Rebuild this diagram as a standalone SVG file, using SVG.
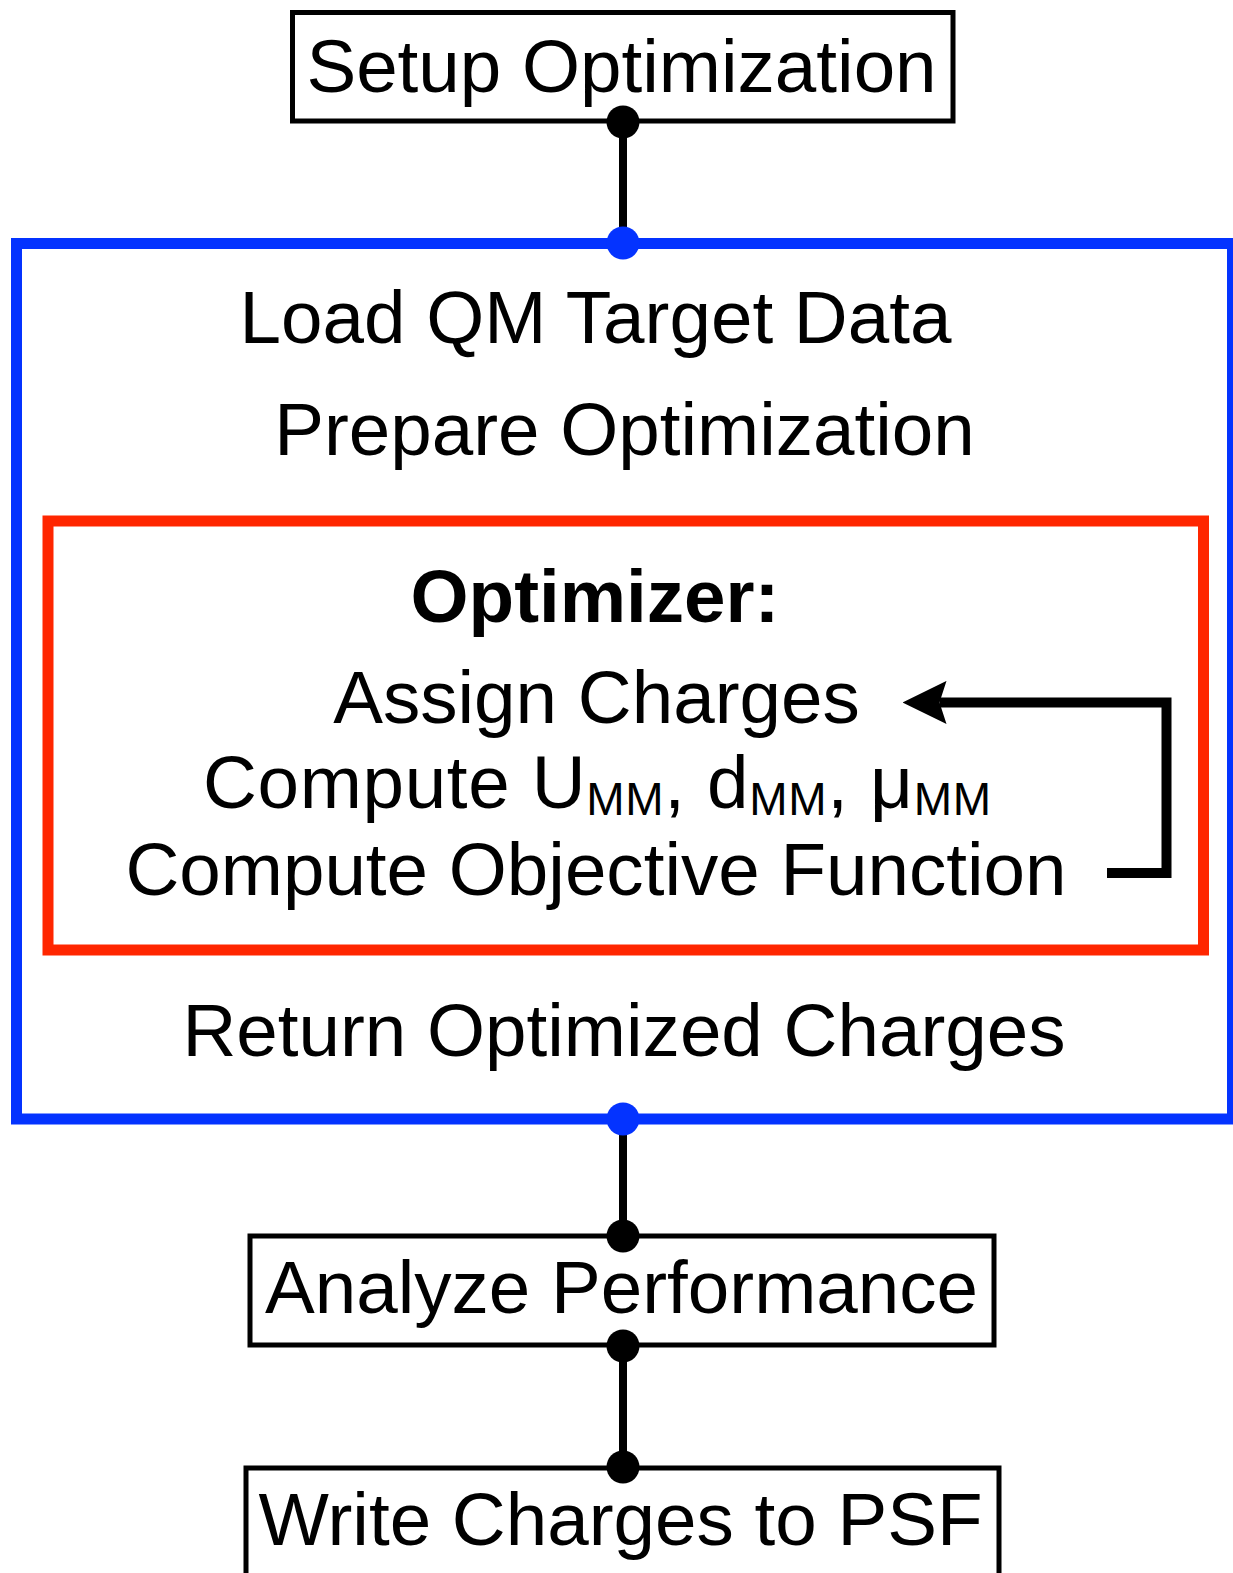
<svg xmlns="http://www.w3.org/2000/svg" width="1233" height="1573" viewBox="0 0 1233 1573">
  <style>
    text { font-family: "Liberation Sans", Arial, Helvetica, sans-serif; font-size: 74.6px; fill: #000; text-anchor: middle; }
    .bold { font-weight: bold; }
    .sub { font-size: 46px; }
    .box { fill: #fff; stroke: #000; stroke-width: 5; }
    .outer { fill: none; stroke: #0433FF; stroke-width: 11; }
    .inner { fill: none; stroke: #FF2600; stroke-width: 11; }
    .link { stroke: #000; stroke-width: 8; fill: none; }
    .loop { stroke: #000; stroke-width: 10; fill: none; stroke-linejoin: miter; stroke-linecap: butt; }
    .dot { fill: #000; }
    .bdot { fill: #0433FF; }
  </style>
  <defs>
    <marker id="arrowhead" markerUnits="userSpaceOnUse" viewBox="0 0 44 44" markerWidth="44" markerHeight="44" refX="7" refY="22" orient="auto">
      <path d="M44,22 L0,0.4 L7,22 L0,43.6 Z" fill="#000"/>
    </marker>
  </defs>

  <rect width="1233" height="1573" fill="#fff"/>

  <!-- connectors between stages -->
  <g id="connectors">
    <line class="link" x1="623" y1="122" x2="623" y2="243"/>
    <line class="link" x1="623" y1="1119" x2="623" y2="1236"/>
    <line class="link" x1="623" y1="1346" x2="623" y2="1467"/>
    <polyline class="loop" points="1107,873 1166.5,873 1166.5,702.5 939.5,702.5" marker-end="url(#arrowhead)"/>
  </g>

  <g id="setup">
    <rect class="box" x="292.5" y="12.5" width="660.5" height="108.5"/>
    <text x="621.5" y="92">Setup Optimization</text>
  </g>

  <g id="charge-fit">
    <rect class="outer" x="16.5" y="243.5" width="1216" height="875.5"/>
    <text x="595.5" y="343">Load QM Target Data</text>
    <text x="624.5" y="455">Prepare Optimization</text>
    <text x="624" y="1056">Return Optimized Charges</text>
  </g>

  <g id="optimizer">
    <rect class="inner" x="48" y="521" width="1155.5" height="429"/>
    <text class="bold" x="595" y="622">Optimizer:</text>
    <text x="596.5" y="723">Assign Charges</text>
    <text x="597" y="808" textLength="788" lengthAdjust="spacing">Compute U<tspan class="sub" dy="7">MM</tspan><tspan dy="-7">, d</tspan><tspan class="sub" dy="7">MM</tspan><tspan dy="-7">, μ</tspan><tspan class="sub" dy="7">MM</tspan></text>
    <text x="596" y="895">Compute Objective Function</text>
  </g>

  <g id="analyze">
    <rect class="box" x="250" y="1236" width="744" height="109"/>
    <text x="621.5" y="1313">Analyze Performance</text>
  </g>

  <g id="write">
    <rect class="box" x="246" y="1468" width="753" height="120"/>
    <text x="620.5" y="1545">Write Charges to PSF</text>
  </g>

  <!-- junction dots on box edges -->
  <g id="junctions">
    <circle class="dot" cx="623" cy="122" r="16.5"/>
    <circle class="bdot" cx="623" cy="243" r="16.5"/>
    <circle class="bdot" cx="623" cy="1119" r="16.5"/>
    <circle class="dot" cx="623" cy="1236" r="16.5"/>
    <circle class="dot" cx="623" cy="1346" r="16.5"/>
    <circle class="dot" cx="623" cy="1467" r="16.5"/>
  </g>
</svg>
